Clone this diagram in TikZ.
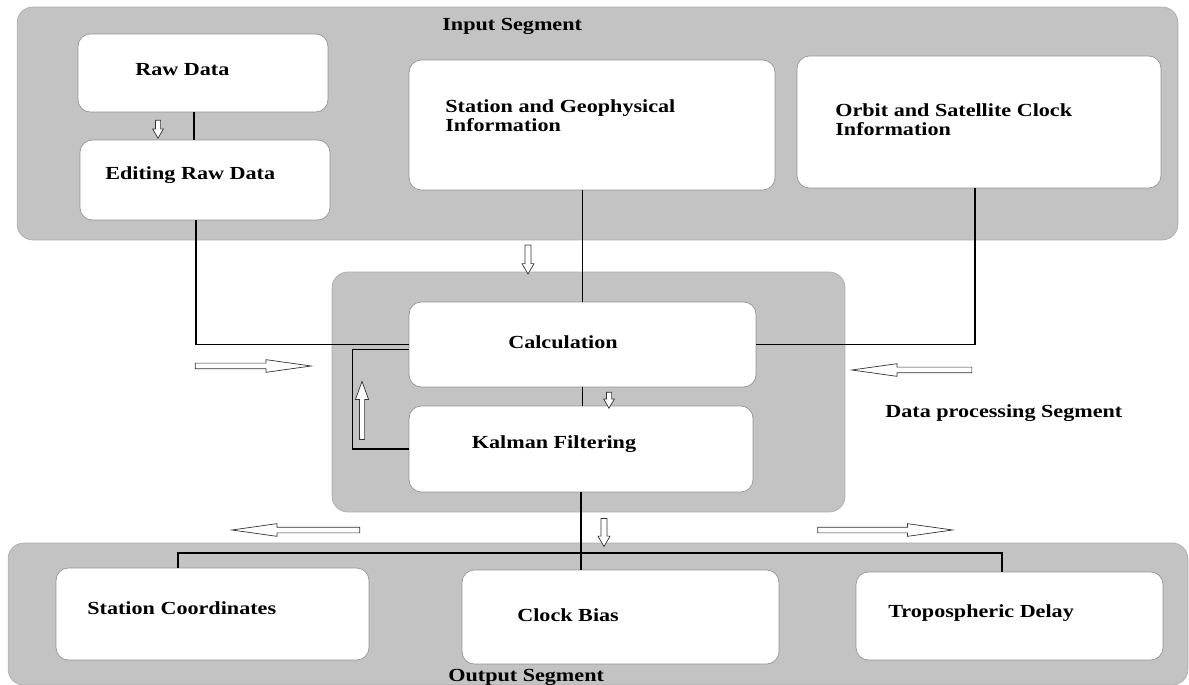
\documentclass[tikz,border=0pt]{standalone}
\usepackage{fontspec}
\setmainfont[FakeStretch=1.2]{Liberation Serif}
\usetikzlibrary{shapes.arrows, positioning, calc}
\colorlet{segFill}{black!23.5}
\colorlet{segDraw}{black!33}
\colorlet{boxDraw}{black!42}
\tikzstyle{seg}=[rectangle, rounded corners=9pt, draw=segDraw, fill=segFill,
inner sep=0pt, outer sep=0pt]
\tikzstyle{rect}=[rectangle, rounded corners=7pt, draw=boxDraw, fill=white,
inner sep=0pt, outer sep=0pt]
\tikzstyle{lbl}=[font=\fontsize{10.5}{11}\selectfont\bfseries, align=left,
anchor=west, inner sep=0pt]
\tikzstyle{wire}=[draw=black, line width=0.6pt]
\tikzstyle{hollow}=[single arrow, draw=black!80, fill=white, outer sep=0pt,
line width=0.4pt]
\tikzstyle{hArrow}=[hollow, inner sep=0.05cm, minimum width=0.24cm,
single arrow head extend=0.07cm, single arrow tip angle=16]
\tikzstyle{vArrow}=[hollow, inner sep=0.045cm, minimum width=0.2cm,
single arrow head extend=0.055cm, single arrow tip angle=60]

\begin{document}
\begin{tikzpicture}[x=0.02cm, y=-0.02cm]
      \useasboundingbox (0,0) rectangle (1189,685);
      % segments
      \node(inseg) [seg, minimum width=23.22cm, minimum height=4.66cm] at (597.5,123.5) {};
      \node(procseg) [seg, minimum width=10.26cm, minimum height=4.8cm] at (588.5,392) {};
      \node(outseg) [seg, minimum width=23.6cm, minimum height=2.84cm] at (598,614) {};
      \node(intitle) [lbl] at (442,26) {Input Segment};
      \node(proctitle) [lbl] at (885,413) {Data processing Segment};
      \node(outtitle) [lbl] at (448,677) {Output Segment};
      % input boxes
      \node(raw) [rect, minimum width=5cm, minimum height=1.56cm] at (203,73) {};
      \node(edit) [rect, minimum width=5cm, minimum height=1.6cm] at (205,180) {};
      \node(geo) [rect, minimum width=7.32cm, minimum height=2.6cm] at (592,125) {};
      \node(orbit) [rect, minimum width=7.28cm, minimum height=2.64cm] at (979,122) {};
      \node(rawtxt) [lbl] at (135,70) {Raw Data};
      \node(edittxt) [lbl] at (105,175) {Editing Raw Data};
      \node(geotxt) [lbl] at (445,115.5) {Station and Geophysical\\Information};
      \node(orbittxt) [lbl] at (835,120) {Orbit and Satellite Clock\\Information};
      % processing boxes
      \node(calc) [rect, minimum width=6.94cm, minimum height=1.7cm] at (582.5,344.5) {};
      \node(kal) [rect, minimum width=6.88cm, minimum height=1.72cm] at (581,449) {};
      \node(calctxt) [lbl, anchor=center] at (563,342) {Calculation};
      \node(kaltxt) [lbl, anchor=center] at (554,444) {Kalman Filtering};
      % output boxes
      \node(stco) [rect, minimum width=6.26cm, minimum height=1.84cm] at (212.5,614) {};
      \node(clk) [rect, minimum width=6.34cm, minimum height=1.88cm] at (620.5,617) {};
      \node(tropo) [rect, minimum width=6.14cm, minimum height=1.76cm] at (1009.5,616) {};
      \node(stcotxt) [lbl] at (87,608) {Station Coordinates};
      \node(clktxt) [lbl] at (517,615) {Clock Bias};
      \node(tropotxt) [lbl] at (888,613) {Tropospheric Delay};
      % connectors
      \draw [wire] ([xshift=-0.18cm]raw.south) -- ([xshift=-0.18cm]raw.south |- edit.north);
      \draw [wire] ([xshift=-0.18cm]edit.south) |- (calc.west);
      \draw [wire] (geo.south -| calc.north) -- (calc.north);
      \draw [wire] ([xshift=-0.08cm]orbit.south) |- (calc.east);
      \draw [wire] (calc.south) -- (calc.south |- kal.north);
      \draw [wire] ([yshift=-0.1cm]calc.west) -- ++(-57,0) |- (kal.west);
      \coordinate(bus) at (580,553);
      \draw [wire] (kal.south) -- (kal.south |- clk.north);
      \draw [wire] ([xshift=-0.69cm]stco.north) |- (bus) -| ([xshift=-0.15cm]tropo.north);
      % hollow arrows
      \node(a1) [vArrow, minimum height=0.36cm, shape border rotate=270] at (158,127) {};
      \node(a2) [vArrow, minimum width=0.24cm, minimum height=0.58cm, shape border rotate=270] at (528,257) {};
      \node(a3) [vArrow, minimum height=0.32cm, shape border rotate=270] at (609,398) {};
      \node(a4) [vArrow, minimum width=0.24cm, minimum height=1.16cm, single arrow tip angle=40,
        single arrow head extend=0.08cm, shape border rotate=90] at (362,414) {};
      \node(a5) [hArrow, minimum height=2.32cm] at (243,366) {};
      \node(a6) [hArrow, minimum height=2.4cm, shape border rotate=180] at (922,370) {};
      \node(a7) [hArrow, minimum height=2.56cm, shape border rotate=180] at (306,530) {};
      \node(a8) [hArrow, minimum height=2.7cm] at (875,530) {};
      \node(a9) [vArrow, minimum width=0.24cm, minimum height=0.56cm, shape border rotate=270] at (604,530) {};
    \end{tikzpicture}
\end{document}
